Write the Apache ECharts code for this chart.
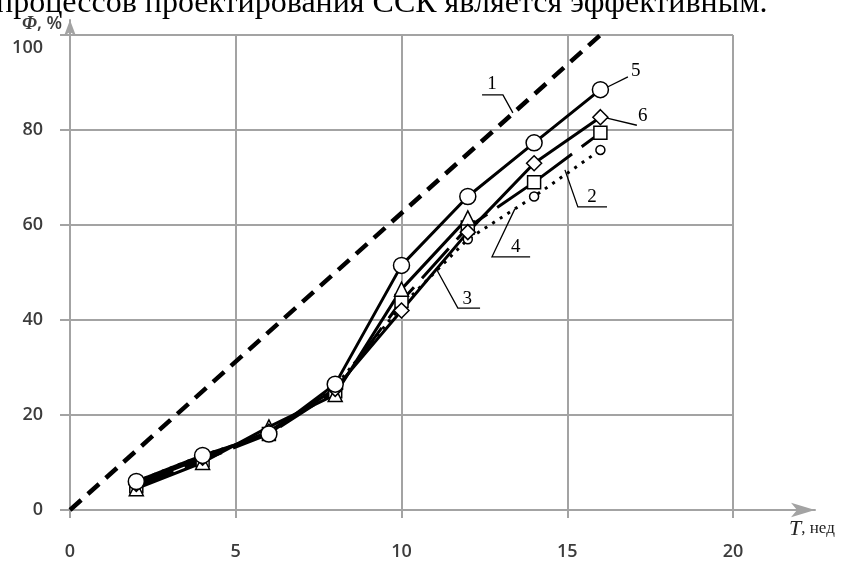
<!DOCTYPE html>
<html>
<head>
<meta charset="utf-8">
<script src="https://cdn.jsdelivr.net/npm/echarts@6/dist/echarts.min.js"></script>
<style>
  html, body { margin: 0; background: #fff; }
  #chart { width: 851px; height: 562px; }
</style>
</head>
<body>
<div id="chart"></div>
<script>
// weeks of observation
var weeks = [2, 4, 6, 8, 10, 12, 14, 16];
// line 1 - ideal (dashed)
var idealWeeks = [0, 16];
var ideal = [0, 100];
// lines 2..6, %
var line2 = [5, 10.5, 16, 25, 44, 59.5, 69, 79.4];
var line3 = [4.5, 10, 17.5, 24.3, 46.5, 61.5];
var line4 = [6, 11.5, 16, 26, 43, 57, 66, 75.8];
var line5 = [6, 11.5, 16, 26.5, 51.5, 66, 77.3, 88.5];
var line6 = [5.5, 11, 16.5, 25.5, 42, 58.5, 73, 82.7];

var xTicks = [0, 5, 10, 15, 20];
var yTicks = [0, 20, 40, 60, 80, 100];

// callout numbers: leader line in data coords, then text position
var callouts = [
  { n: '1', path: [[13.36, 83.6], [13.06, 87.4], [12.43, 87.4]], at: [12.73, 89.6] },
  { n: '5', path: [[16.2, 89.0], [16.83, 91.2]], at: [17.07, 92.4] },
  { n: '6', path: [[16.2, 82.5], [17.1, 81.0]], at: [17.28, 82.9] },
  { n: '2', path: [[14.93, 71.6], [15.32, 63.8], [16.2, 63.8]], at: [15.75, 65.9] },
  { n: '4', path: [[13.42, 63.4], [12.73, 53.3], [13.88, 53.3]], at: [13.45, 55.4] },
  { n: '3', path: [[11.04, 50.9], [11.7, 42.5], [12.37, 42.5]], at: [11.98, 44.4] }
];

function pairs(xs, ys) {
  return ys.map(function (v, i) { return [xs[i], v]; });
}

var gridColor = '#a3a3a3';
var labelFont = { color: '#3c3c3c', fontSize: 18, fontWeight: 600, fontFamily: 'Open Sans' };

function marked(name, data, symbol, size, dash) {
  return {
    name: name,
    type: 'line',
    data: pairs(weeks, data),
    symbol: symbol,
    symbolSize: size,
    showAllSymbol: true,
    lineStyle: { color: '#000', width: 3, type: dash || 'solid' },
    itemStyle: { color: '#fff', borderColor: '#000', borderWidth: 1.5 },
    animation: false
  };
}

var chart = echarts.init(document.getElementById('chart'));
chart.setOption({
  backgroundColor: '#fff',
  animation: false,
  grid: [
    { left: 70, top: 35, width: 663, height: 475 },
    { left: 70, top: 20, width: 745, height: 490 }
  ],
  xAxis: [
    {
      type: 'value',
      gridIndex: 0,
      min: xTicks[0],
      max: xTicks[xTicks.length - 1],
      interval: xTicks[1] - xTicks[0],
      axisLine: { show: false },
      axisTick: { show: true, length: 8, lineStyle: { color: gridColor, width: 2 } },
      axisLabel: Object.assign({ margin: 33 }, labelFont),
      splitLine: { show: true, lineStyle: { color: gridColor, width: 2 } }
    },
    {
      type: 'value',
      gridIndex: 1,
      min: 0,
      max: 1,
      axisLine: {
        show: true,
        symbol: ['none', 'arrow'],
        symbolSize: [11, 24],
        lineStyle: { color: gridColor, width: 2 }
      },
      axisTick: { show: false },
      axisLabel: { show: false },
      splitLine: { show: false },
      name: '{i|T}, нед',
      nameLocation: 'end',
      nameGap: -26,
      nameTextStyle: {
        align: 'left',
        verticalAlign: 'top',
        padding: [8, 0, 0, 0],
        fontFamily: 'Liberation Serif',
        fontSize: 17,
        color: '#222',
        rich: { i: { fontStyle: 'italic', fontFamily: 'Liberation Serif', fontSize: 22, color: '#222' } }
      }
    }
  ],
  yAxis: [
    {
      type: 'value',
      gridIndex: 0,
      min: yTicks[0],
      max: yTicks[yTicks.length - 1],
      interval: yTicks[1] - yTicks[0],
      axisLine: { show: false },
      axisTick: { show: true, length: 10, lineStyle: { color: gridColor, width: 2 } },
      axisLabel: Object.assign({
        margin: 27,
        formatter: function (v) { return v === yTicks[yTicks.length - 1] ? '{top|' + v + '}' : v; },
        rich: { top: { padding: [26, 0, 0, 0], color: '#3c3c3c', fontSize: 18, fontWeight: 600, fontFamily: 'Open Sans' } }
      }, labelFont),
      splitLine: { show: true, lineStyle: { color: gridColor, width: 2 } }
    },
    {
      type: 'value',
      gridIndex: 1,
      min: 0,
      max: 1,
      axisLine: {
        show: true,
        symbol: ['none', 'arrow'],
        symbolSize: [9, 16],
        lineStyle: { color: gridColor, width: 2 }
      },
      axisTick: { show: false },
      axisLabel: { show: false },
      splitLine: { show: false },
      name: '{i|Φ}, %',
      nameLocation: 'end',
      nameGap: -4,
      nameTextStyle: {
        align: 'right',
        verticalAlign: 'middle',
        padding: [0, 8, 0, 0],
        fontFamily: 'Open Sans',
        fontWeight: 600,
        fontSize: 18,
        color: '#3c3c3c',
        rich: { i: { fontStyle: 'italic', fontFamily: 'Liberation Serif', fontSize: 19, color: '#3c3c3c' } }
      }
    }
  ],
  series: [
    {
      name: '1',
      type: 'line',
      data: pairs(idealWeeks, ideal),
      symbol: 'none',
      lineStyle: { color: '#000', width: 4.5, type: [15, 9] }
    },
    marked('4', line4, 'circle', 9, [3, 6]),
    marked('2', line2, 'rect', 13, [40, 12]),
    marked('3', line3, 'triangle', 14),
    marked('6', line6, 'diamond', 15),
    marked('5', line5, 'circle', 16)
  ]
});

// text line of the page above the figure, cut by the crop
var graphics = [{
  type: 'text',
  left: -4,
  top: -12,
  style: { text: 'процессов проектирования ССК является эффективным.', font: '32px "Liberation Serif"', fill: '#000' }
}];

callouts.forEach(function (c) {
  var pts = c.path.map(function (p) { return chart.convertToPixel({ gridIndex: 0 }, p); });
  var tp = chart.convertToPixel({ gridIndex: 0 }, c.at);
  graphics.push({
    type: 'polyline',
    shape: { points: pts },
    style: { stroke: '#000', lineWidth: 1.3, fill: null },
    z: 10
  });
  graphics.push({
    type: 'text',
    x: tp[0],
    y: tp[1],
    style: { text: c.n, font: '19px "Liberation Serif"', fill: '#000', align: 'center', verticalAlign: 'middle' },
    z: 10
  });
});

chart.setOption({ graphic: graphics });
</script>
</body>
</html>
